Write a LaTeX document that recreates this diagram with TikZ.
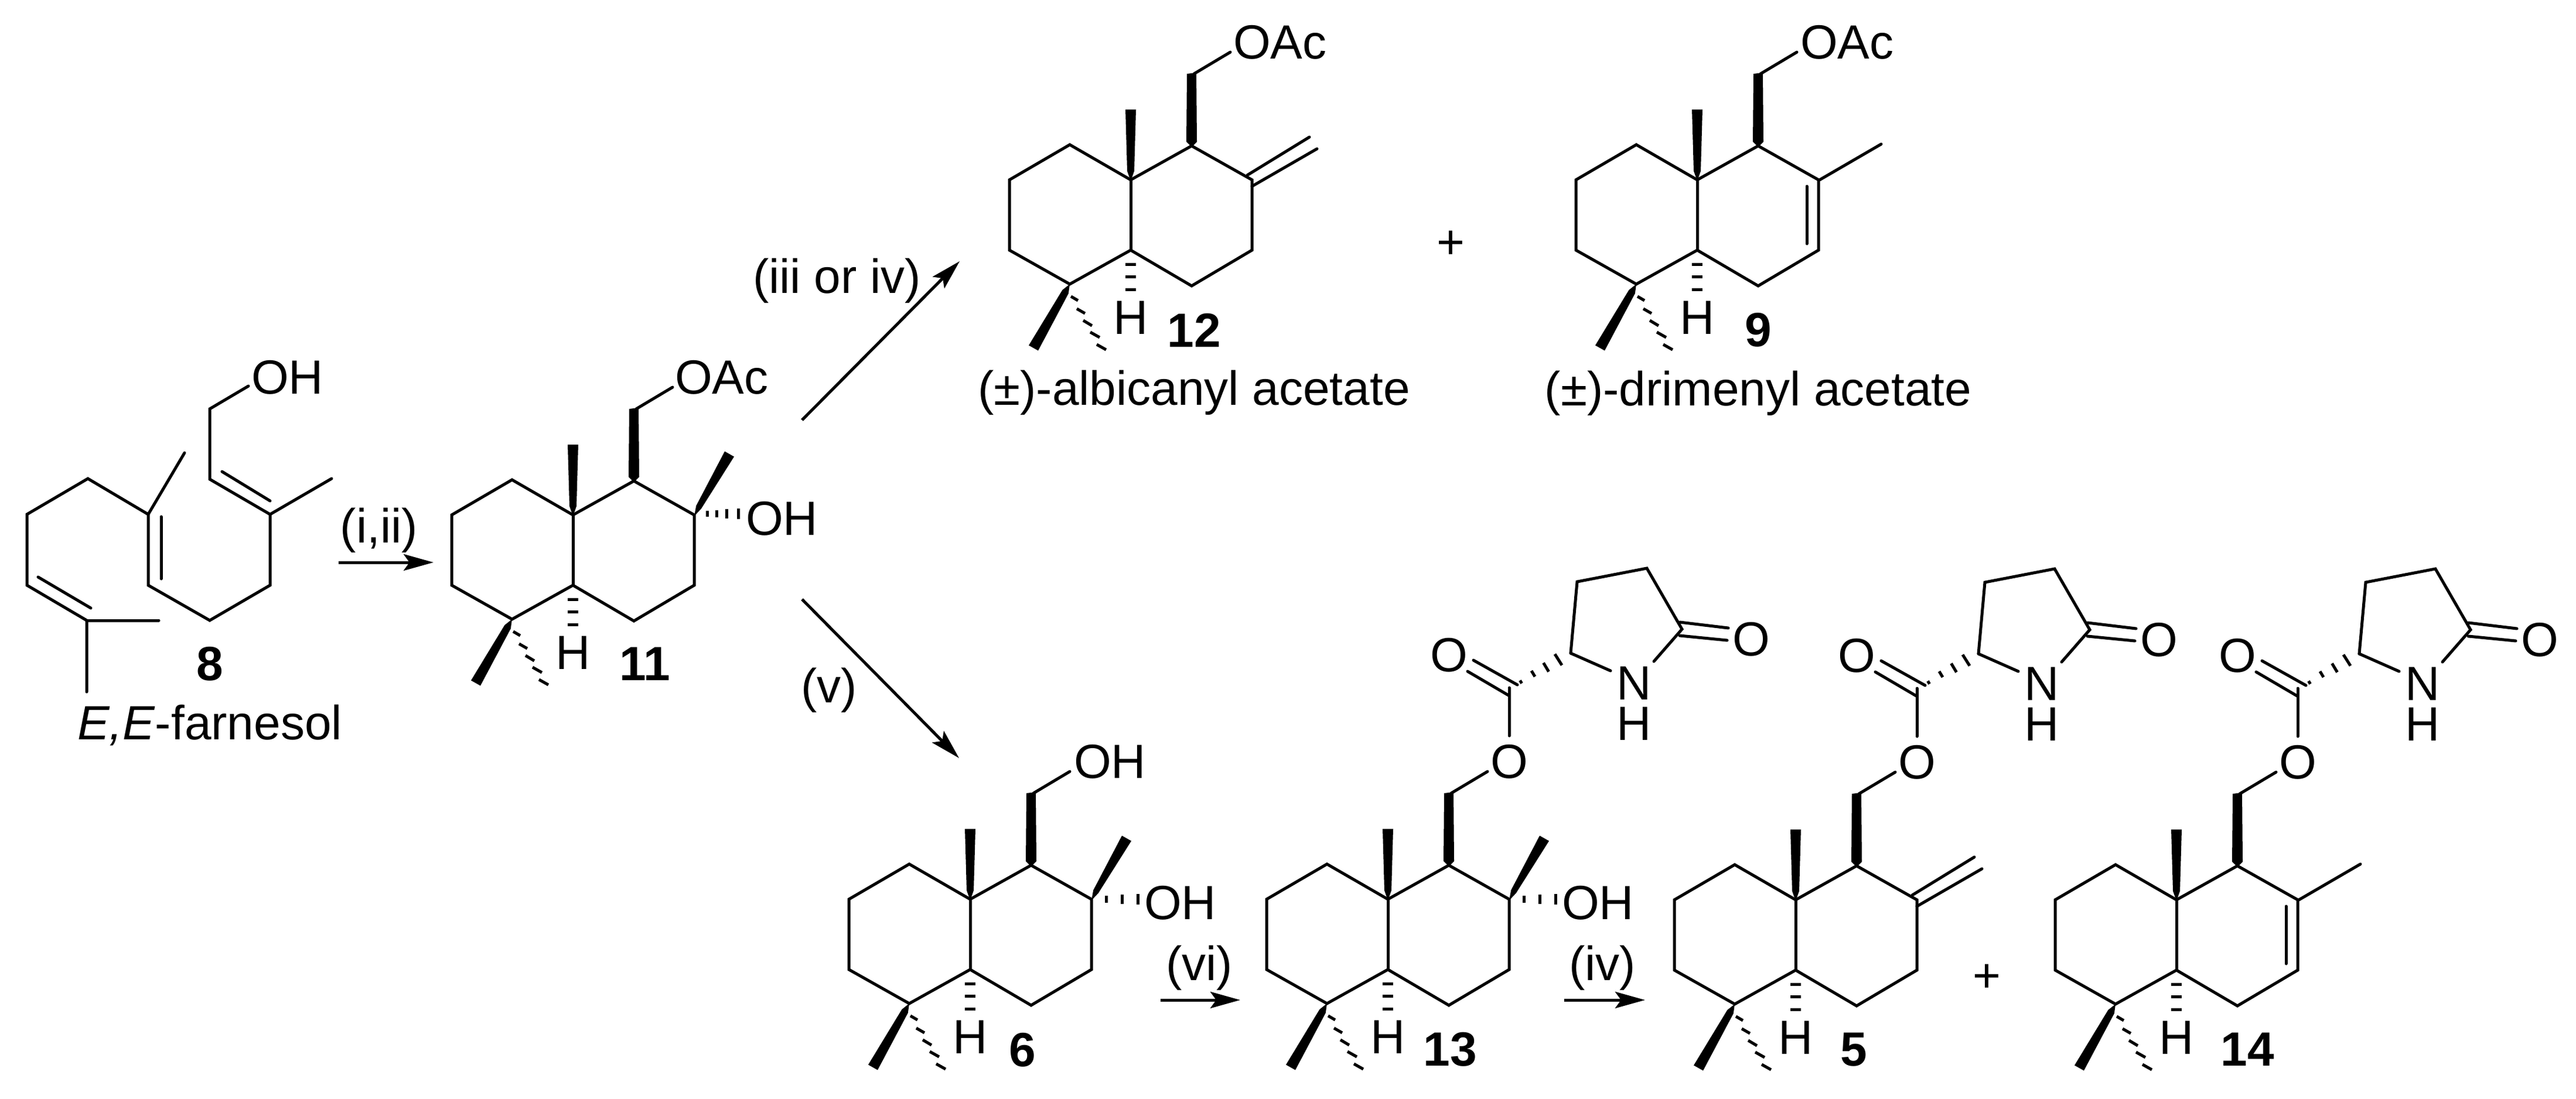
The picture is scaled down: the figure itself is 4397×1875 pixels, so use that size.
\documentclass[tikz,border=0pt]{standalone}
\usepackage{fontspec}
\setmainfont{Liberation Sans}
\usetikzlibrary{arrows.meta}
\tikzset{
  bond/.style={line width=2.5pt,line cap=round,line join=miter,black},
  hashbar/.style={line width=2.5pt,line cap=butt,black},
  solidwedge/.style={fill=black,draw=none},
  txt/.style={inner sep=0pt,outer sep=0pt,font=\fontsize{41}{45}\selectfont,text=black},
  nhgroup/.style={txt,align=center,font=\fontsize{41}{34.5}\selectfont},
  lab/.style={txt,anchor=base,font=\fontsize{41}{45}\selectfont\bfseries},
  rxn/.style={line width=2.5pt,black,-{Stealth[length=25.5pt,width=14pt,inset=5pt]}},
}
% decalin core: origin at the ring-fusion carbon bearing the angular methyl
\newcommand{\decalincore}[1]{%
  \draw[bond] (-207,0)--(-104,-60)--(0,0)--(104,-58)--(207,0)--(207,120)--(104,181)--(0,120)--(-104,178)--(-207,120)--cycle;
  \draw[bond] (0,0)--(0,120);
  \fill[solidwedge] (-9,-120)--(9,-120)--(6,-15)--(0,2)--(-6,-15)--cycle;
  \fill[solidwedge] (96,-181)--(112,-183)--(113,-65)--(104,-56)--(95,-65)--cycle;
  \draw[bond] (108,-181)--(170,-218);
  \foreach \yy in {144,165,187} {\draw[hashbar] (-9,\yy)--(9,\yy);}
  \fill[solidwedge] (-104,178)--(-106.2,194)--(-158,291.5)--(-174,282.5)--(-116.6,188)--cycle;
  \draw[hashbar] (-102,199)--(-90,206);
  \draw[hashbar] (-92,220)--(-78,228);
  \draw[hashbar] (-81,240)--(-66,249);
  \draw[hashbar] (-69,260)--(-53,269);
  \draw[hashbar] (-58,281)--(-42,290);
  \node[txt,anchor=base] (H#1) at (0,263) {H};
}
% tertiary alcohol on the right-hand ring
\newcommand{\carbinolwedge}{%
  \fill[solidwedge] (207,2)--(218.8,-10.5)--(275,-99.5)--(259,-108.5)--(210.2,-15.5)--cycle;
}
\newcommand{\exomethylene}{%
  \draw[bond] (207,11)--(318,-53);
  \draw[bond] (199,-8)--(305,-73);
}
\newcommand{\ringalkene}{%
  \draw[bond] (209,0)--(314,-61);
  \draw[bond] (187,11)--(187,109);
}
% pyroglutamate ester
\newcommand{\pgluester}[1]{%
  \node[txt,anchor=base] (Oe#1) at (207,-207) {O};
  \node[txt,anchor=base] (Oc#1) at (104,-389) {O};
  \node[nhgroup] (N#1) at (420,-334) {N\\H};
  \node[txt,anchor=base] (Ol#1) at (620,-416) {O};
  \draw[bond] (207,-279)--(207,-361);
  \draw[bond] (221,-366)--(146,-408);
  \draw[bond] (206,-348)--(136,-389);
  \draw[hashbar] (225.5,-373.5)--(228.5,-368.5);
  \draw[hashbar] (245,-390)--(251,-380);
  \draw[hashbar] (265.5,-403.5)--(274.5,-388.5);
  \draw[hashbar] (285,-418.5)--(297,-399.5);
  \draw[bond] (312,-420)--(323,-542)--(442,-565)--(502,-461)--(454,-406);
  \draw[bond] (312,-420)--(380,-390);
  \draw[bond] (498,-473)--(581,-463);
  \draw[bond] (498,-450)--(579,-442);
}
\begin{document}
\begin{tikzpicture}[x=0.5pt,y=-0.5pt]
\useasboundingbox (0,0) rectangle (4397,1875);
\fill[white] (0,0) rectangle (4397,1875);

% ---------- 8
\draw[bond] (148,1181)--(148,1059)--(46,999)--(46,878)--(150,817)--(253,878)--(253,999)--(358,1059)--(461,999)--(461,878)--(358,818)--(358,698)--(424,659);
\draw[bond] (148,1059)--(271,1059);
\draw[bond] (253,878)--(315,773);
\draw[bond] (461,878)--(566,817);
\draw[bond] (65,985)--(155,1038);
\draw[bond] (275,882)--(275,988);
\draw[bond] (379,805)--(461,855);
\node[txt,anchor=base west] (oh8) at (429,672) {OH};
\node[lab] (l8) at (358,1161) {8};
\node[txt,anchor=base] (n8) at (358,1262) {\textit{E,E}-farnesol};

% ---------- 11
\begin{scope}[shift={(978,879)}]
  \decalincore{11}
  \carbinolwedge
  \foreach \xx/\hh in {229/5,245/6,262/8,282/9} {\draw[hashbar] (\xx,-2-\hh)--(\xx,-2+\hh);}
  \node[txt,anchor=base west] (oac11) at (174,-207) {OAc};
  \node[txt,anchor=base west] (oh11) at (295,34) {OH};
  \node[lab] (l11) at (123,282) {11};
\end{scope}

% ---------- 12
\begin{scope}[shift={(1930,307)}]
  \decalincore{12}
  \exomethylene
  \node[txt,anchor=base west] (oac12) at (175,-207) {OAc};
  \node[lab] (l12) at (108,285) {12};
\end{scope}
\node[txt,anchor=base] (n12) at (2038,691) {(±)-albicanyl acetate};
\node[txt] (plus1) at (2476,418) {+};

% ---------- 9
\begin{scope}[shift={(2897,307)}]
  \decalincore{9}
  \ringalkene
  \node[txt,anchor=base west] (oac9) at (176,-207) {OAc};
  \node[lab] (l9) at (104,284) {9};
\end{scope}
\node[txt,anchor=base] (n9) at (3001,692) {(±)-drimenyl acetate};

% ---------- 6
\begin{scope}[shift={(1656,1535)}]
  \decalincore{6}
  \carbinolwedge
  \foreach \xx/\hh in {232/6,259/8,286/9} {\draw[hashbar] (\xx,-\hh)--(\xx,\hh);}
  \node[txt,anchor=base west] (oh6a) at (177,-207) {OH};
  \node[txt,anchor=base west] (oh6b) at (297,34) {OH};
  \node[lab] (l6) at (89,285) {6};
\end{scope}

% ---------- 13
\begin{scope}[shift={(2369,1535)}]
  \decalincore{13}
  \carbinolwedge
  \foreach \xx/\hh in {232/6,259/8,286/9} {\draw[hashbar] (\xx,-\hh)--(\xx,\hh);}
  \pgluester{13}
  \node[txt,anchor=base west] (oh13) at (297,34) {OH};
  \node[lab] (l13) at (106,284) {13};
\end{scope}

% ---------- 5
\begin{scope}[shift={(3065,1536)}]
  \decalincore{5}
  \exomethylene
  \pgluester{5}
  \node[lab] (l5) at (99,283) {5};
\end{scope}
\node[txt] (plus2) at (3391,1670) {+};

% ---------- 14
\begin{scope}[shift={(3715,1536)}]
  \decalincore{14}
  \ringalkene
  \pgluester{14}
  \node[lab] (l14) at (121,283) {14};
\end{scope}

% ---------- reaction arrows
\coordinate (a1s) at (578,960);   \coordinate (a1e) at (740,960);
\coordinate (a2s) at (1369,717);  \coordinate (a2e) at (1638,446);
\coordinate (a3s) at (1369,1023); \coordinate (a3e) at (1637,1294);
\coordinate (a4s) at (1981,1707); \coordinate (a4e) at (2117,1707);
\coordinate (a5s) at (2670,1707); \coordinate (a5e) at (2808,1707);
\draw[rxn] (a1s)--(a1e);
\draw[rxn] (a2s)--(a2e);
\draw[rxn] (a3s)--(a3e);
\draw[rxn] (a4s)--(a4e);
\draw[rxn] (a5s)--(a5e);
\node[txt,anchor=base] (r1) at (647,926) {(i,ii)};
\node[txt,anchor=base east] (r2) at (1572,500) {(iii or iv)};
\node[txt,anchor=base] (r3) at (1415,1199) {(v)};
\node[txt,anchor=base] (r4) at (2047,1673) {(vi)};
\node[txt,anchor=base] (r5) at (2735,1673) {(iv)};
\end{tikzpicture}
\end{document}
